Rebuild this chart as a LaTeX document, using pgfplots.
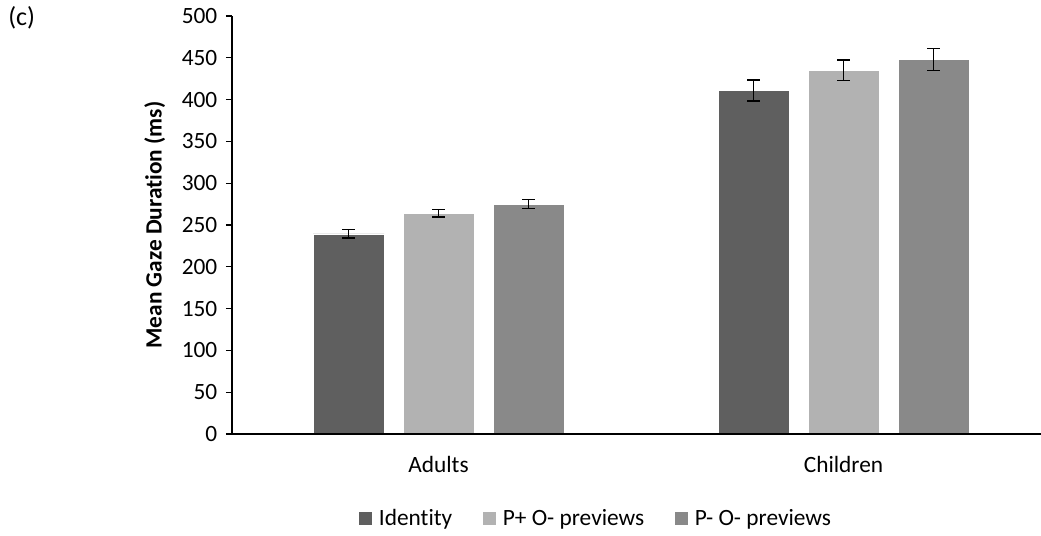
\documentclass[border=0pt]{standalone}
\usepackage{pgfplots}
\pgfplotsset{compat=1.18}
\usepackage{fontspec}
\setmainfont{Carlito}[Ligatures={NoCommon}]
\definecolor{cId}{HTML}{5F5F5F}
\definecolor{cPp}{HTML}{B2B2B2}
\definecolor{cPm}{HTML}{898989}
\begin{document}
\begin{tikzpicture}
\useasboundingbox (-174pt,-75.75pt) rectangle (606.75pt,325.5pt);
\begin{axis}[
  scale only axis,
  width=607.5pt, height=313.5pt,
  xmin=-0.51, xmax=1.49,
  ymin=0, ymax=500,
  ytick={0,50,...,500},
  xtick={0,1},
  xticklabels={Adults,Children},
  axis on top,
  axis x line*=bottom,
  axis y line*=left,
  x axis line style={line width=1.3pt, -},
  y axis line style={line width=0.8pt, -},
  y tick style={black, line width=0.8pt},
  tick align=outside,
  major tick length=4.5pt,
  x tick style={draw=none},
  font=\fontsize{17.5pt}{20pt}\selectfont,
  tick label style={font=\fontsize{17.5pt}{20pt}\selectfont},
  /pgf/number format/assume math mode=true,
  yticklabel style={xshift=-3pt},
  xticklabel style={yshift=-9pt},
  ylabel={\bfseries Mean Gaze Duration (ms)},
  y label style={at={(axis description cs:-0.0953,0.5)}, anchor=center, font=\fontsize{17.5pt}{20pt}\selectfont},
  ybar=14.25pt,
  bar width=53.25pt,
  error bars/y dir=both,
  error bars/y explicit,
  error bars/error bar style={black, line width=1.1pt},
  error bars/error mark options={rotate=90, mark size=4.6pt, line width=1.1pt, black},
  legend columns=3,
  legend style={at={(axis description cs:0.449,-0.201)}, anchor=center, draw=none,
    font=\fontsize{17.5pt}{20pt}\selectfont, inner sep=0pt,
    /tikz/every even column/.append style={column sep=20pt}},
  legend image code/.code={\fill[#1] (0pt,-5.25pt) rectangle (10.5pt,5.25pt); \path (13.5pt,0pt);},
]
\addplot[fill=cId, draw=white, line width=0.4pt] coordinates {(0,239.5) +- (0,5) (1,411) +- (0,12.4)};
\addplot[fill=cPp, draw=white, line width=0.4pt] coordinates {(0,264) +- (0,4.5) (1,435) +- (0,12.2)};
\addplot[fill=cPm, draw=white, line width=0.4pt] coordinates {(0,275) +- (0,5.5) (1,448) +- (0,13)};
\legend{Identity, P+ O- previews, P- O- previews}
\end{axis}
\node[anchor=west, inner sep=0pt, font=\fontsize{19.5pt}{22pt}\selectfont] at (-168pt,312pt) {(c)};
\end{tikzpicture}
\end{document}
